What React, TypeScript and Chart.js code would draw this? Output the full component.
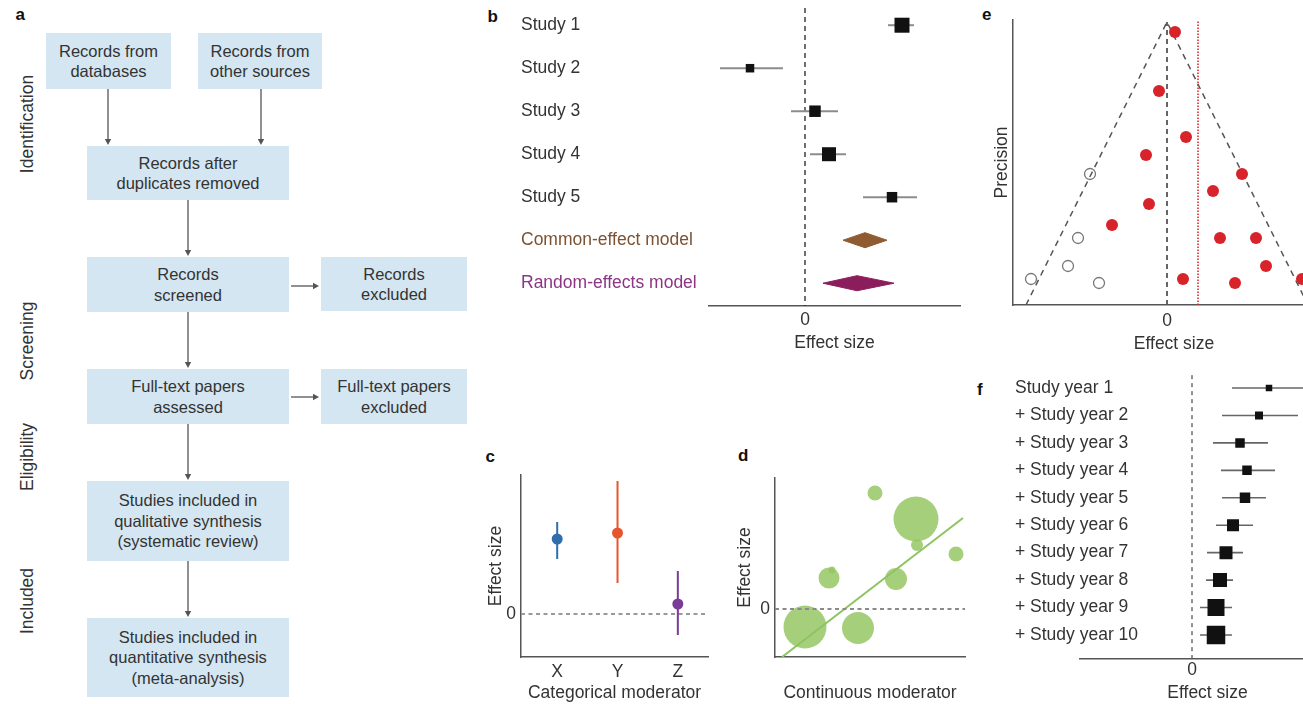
import React, { useEffect, useRef } from "react";
import { Chart, registerables } from "chart.js";

Chart.register(...registerables);

const FONT = '"Liberation Sans", Arial, Helvetica, sans-serif';
Chart.defaults.font.family = FONT;
Chart.defaults.color = "#333";

/* ---------------- panel a: flow diagram ---------------- */
const flowTexts: string[][] = [
  ["Records from", "databases"],
  ["Records from", "other sources"],
  ["Records after", "duplicates removed"],
  ["Records", "screened"],
  ["Records", "excluded"],
  ["Full-text papers", "assessed"],
  ["Full-text papers", "excluded"],
  ["Studies included in", "qualitative synthesis", "(systematic review)"],
  ["Studies included in", "quantitative synthesis", "(meta-analysis)"],
];
const stageLabels = ["Identification", "Screening", "Eligibility", "Included"];

/* ---------------- panel b: forest plot ---------------- */
const forestLabels = [
  "Study 1",
  "Study 2",
  "Study 3",
  "Study 4",
  "Study 5",
  "Common-effect model",
  "Random-effects model",
];
const forestLabelColors = ["#333", "#333", "#333", "#333", "#333", "#7d5231", "#8c3585"];
const studyEffect = [0.97, -0.55, 0.1, 0.24, 0.87];
const studyLower = [0.83, -0.85, -0.14, 0.05, 0.58];
const studyUpper = [1.09, -0.22, 0.33, 0.41, 1.12];
const studyWeight = [15, 8.5, 11.5, 14, 10.5];
const pooledEffect = [0.6, 0.52];
const pooledLower = [0.38, 0.18];
const pooledUpper = [0.82, 0.89];
const pooledColors = ["#8f5b30", "#8b1d5c"];

/* ---------------- panel c: categorical moderator ---------------- */
const catLabels = ["X", "Y", "Z"];
const catEffect = [7.5, 8.1, 1.0];
const catLower = [5.5, 3.1, -2.1];
const catUpper = [9.2, 13.3, 4.3];
const catColors = ["#2f6eab", "#e8552c", "#7a3b97"];

/* ---------------- panel d: continuous moderator ---------------- */
const modX = [3.0, 8.3, 5.4, 5.7, 10.0, 14.1, 14.2, 12.1, 18.1];
const modY = [-1.8, -1.9, 3.1, 3.9, 11.6, 9.0, 6.4, 3.0, 5.5];
const modWeight = [21.5, 16, 10.5, 3.5, 7.5, 22.5, 6, 11, 7.5];
const fitX = [0.7, 18.8];
const fitY = [-4.8, 9.1];

/* ---------------- panel e: funnel plot ---------------- */
const funnelEffect = [0.08, -0.08, 0.19, -0.21, 0.75, 0.46, -0.18, -0.55, 0.53, 0.89, 0.99, 0.16, 0.68, 1.35];
const funnelPrecision = [27.3, 21.4, 16.8, 15.0, 13.1, 11.4, 10.1, 8.0, 6.7, 6.7, 3.9, 2.6, 2.2, 2.6];
const imputedEffect = [-0.77, -0.89, -0.99, -1.36, -0.68];
const imputedPrecision = [13.1, 6.7, 3.9, 2.6, 2.2];
const funnelApex = 28.3;
const funnelHalfWidth = 1.41;
const adjustedEffect = 0.31;

/* ---------------- panel f: cumulative meta-analysis ---------------- */
const cumLabels = [
  "Study year 1",
  "+ Study year 2",
  "+ Study year 3",
  "+ Study year 4",
  "+ Study year 5",
  "+ Study year 6",
  "+ Study year 7",
  "+ Study year 8",
  "+ Study year 9",
  "+ Study year 10",
];
const cumEffect = [0.77, 0.67, 0.48, 0.55, 0.53, 0.41, 0.34, 0.28, 0.24, 0.24];
const cumLower = [0.4, 0.3, 0.21, 0.29, 0.3, 0.24, 0.15, 0.14, 0.08, 0.08];
const cumUpper = [1.16, 1.06, 0.76, 0.83, 0.74, 0.61, 0.51, 0.41, 0.4, 0.4];
const cumWeight = [6.5, 8, 9.5, 9.5, 10.5, 12, 13, 14, 17, 18.5];

/* ---------------- helpers ---------------- */
const FS = 17.5;

function fixAxis(size: number, horizontal: boolean) {
  return (s: any) => {
    if (horizontal) s.height = size;
    else s.width = size;
    s.paddingTop = 0;
    s.paddingBottom = 0;
    s.paddingLeft = 0;
    s.paddingRight = 0;
  };
}

function seg(points: { x: number; y: number }[], color: string, width: number, dash: number[], order: number) {
  return {
    type: "line",
    data: points,
    borderColor: color,
    backgroundColor: color,
    borderWidth: width,
    borderDash: dash,
    pointRadius: 0,
    pointHoverRadius: 0,
    fill: false,
    tension: 0,
    order,
  };
}

function opts(padding: any, scales: any) {
  return {
    responsive: false,
    animation: false,
    events: [],
    layout: { padding, autoPadding: false },
    plugins: { legend: { display: false }, tooltip: { enabled: false } },
    scales,
  };
}

const noGrid = { display: false, drawTicks: false };
const axisBorder = { display: true, color: "#555", width: 1.5 };

function bottomAxis(
  min: number,
  max: number,
  height: number,
  tickPad: number,
  titleText: string,
  titlePad: number,
  tickValues: number[] | null,
  labels?: string[]
) {
  return {
    type: "linear",
    position: "bottom",
    min,
    max,
    afterBuildTicks: (s: any) => {
      s.ticks = (tickValues || []).map((v) => ({ value: v }));
    },
    afterFit: fixAxis(height, true),
    grid: noGrid,
    border: axisBorder,
    ticks: {
      display: tickValues !== null,
      autoSkip: false,
      maxRotation: 0,
      font: { size: FS },
      padding: tickPad,
      color: "#333",
      callback: (v: number) => (labels ? labels[v] ?? "" : String(v)),
    },
    title: {
      display: true,
      text: titleText,
      font: { size: FS },
      color: "#333",
      padding: { top: 0, bottom: titlePad },
    },
  };
}

function leftValueAxis(min: number, max: number, width: number, titlePad: number, showZero: boolean) {
  return {
    type: "linear",
    position: "left",
    min,
    max,
    afterBuildTicks: (s: any) => {
      s.ticks = showZero ? [{ value: 0 }] : [];
    },
    afterFit: fixAxis(width, false),
    grid: noGrid,
    border: axisBorder,
    ticks: { display: showZero, font: { size: FS }, padding: 5, color: "#333", callback: (v: number) => String(v) },
    title: {
      display: true,
      text: showZero ? "Effect size" : "Precision",
      font: { size: FS },
      color: "#333",
      padding: { top: titlePad, bottom: 0 },
    },
  };
}

// Row-label axis. When `overhang` is given, labels start `overhang` px left of the
// chart area and are allowed to run into it (mirror mode avoids clipping).
function labelAxis(labels: string[], colors: string[] | null, min: number, max: number, width: number, overhang?: number) {
  const mirrored = overhang !== undefined;
  return {
    type: "linear",
    position: "left",
    reverse: true,
    min,
    max,
    afterBuildTicks: (s: any) => {
      s.ticks = labels.map((_, i) => ({ value: i }));
    },
    afterFit: fixAxis(width, false),
    grid: noGrid,
    border: { display: false },
    ticks: {
      autoSkip: false,
      mirror: mirrored,
      crossAlign: mirrored ? "near" : "far",
      padding: mirrored ? -(overhang as number) : 0,
      font: { size: FS },
      callback: (v: number) => labels[v] ?? "",
      color: (c: any) => (colors ? colors[c.index] ?? "#333" : "#333"),
    },
  };
}

/* ---------------- chart configs ---------------- */
function forestConfig() {
  const DH = 0.175;
  const ds: any[] = [];
  ds.push(seg([{ x: 0, y: -0.4 }, { x: 0, y: 6.53 }], "#222", 1.3, [5, 4], 6));
  studyEffect.forEach((_, i) =>
    ds.push(seg([{ x: studyLower[i], y: i }, { x: studyUpper[i], y: i }], "#8c8c8c", 2, [], 3))
  );
  ds.push({
    type: "scatter",
    data: studyEffect.map((x, i) => ({ x, y: i })),
    pointStyle: "rect",
    pointRadius: studyWeight.map((w) => w / Math.SQRT2),
    pointHoverRadius: studyWeight.map((w) => w / Math.SQRT2),
    pointBackgroundColor: "#111",
    pointBorderWidth: 0,
    order: 1,
  });
  pooledEffect.forEach((e, i) => {
    const y = studyEffect.length + i;
    ds.push({
      type: "line",
      data: [
        { x: pooledLower[i], y },
        { x: e, y: y - DH },
        { x: pooledUpper[i], y },
        { x: e, y: y + DH },
        { x: pooledLower[i], y },
      ],
      borderColor: pooledColors[i],
      backgroundColor: pooledColors[i],
      borderWidth: 1,
      fill: "shape",
      pointRadius: 0,
      tension: 0,
      order: 1,
    });
  });
  return {
    type: "scatter",
    data: { datasets: ds },
    options: opts(
      { top: 5, left: 5, right: 8, bottom: 0 },
      {
        x: bottomAxis(-0.96, 1.55, 49, 4, "Effect size", 1.3, [0]),
        y: labelAxis(forestLabels, forestLabelColors, -0.47, 6.53, 188),
      }
    ),
  };
}

function categoricalConfig() {
  const ds: any[] = [];
  ds.push(seg([{ x: -0.6, y: 0 }, { x: 2.5, y: 0 }], "#999", 2, [4, 3.5], 6));
  catEffect.forEach((_, i) =>
    ds.push(seg([{ x: i, y: catLower[i] }, { x: i, y: catUpper[i] }], catColors[i], 2, [], 3))
  );
  ds.push({
    type: "scatter",
    data: catEffect.map((y, i) => ({ x: i, y })),
    pointRadius: 5.5,
    pointHoverRadius: 5.5,
    pointBackgroundColor: catColors,
    pointBorderWidth: 0,
    order: 1,
  });
  return {
    type: "scatter",
    data: { datasets: ds },
    options: opts(
      { top: 13, left: 0, right: 7, bottom: 0 },
      {
        x: bottomAxis(-0.6, 2.5, 47, 4.3, "Categorical moderator", 0.8, [0, 1, 2], catLabels),
        y: leftValueAxis(-4.3, 13.9, 36, 1, true),
      }
    ),
  };
}

function continuousConfig() {
  const ds: any[] = [];
  ds.push({
    type: "bubble",
    data: modX.map((x, i) => ({ x, y: modY[i], r: modWeight[i] })),
    backgroundColor: "rgba(150,199,101,0.85)",
    borderWidth: 0,
    hoverRadius: 0,
    order: 5,
  });
  ds.push(seg([{ x: fitX[0], y: fitY[0] }, { x: fitX[1], y: fitY[1] }], "#8dc462", 2, [], 3));
  ds.push(seg([{ x: 0, y: 0 }, { x: 19, y: 0 }], "#8a8a8a", 2, [4, 3.5], 1));
  return {
    type: "scatter",
    data: { datasets: ds },
    options: opts(
      { top: 16, left: 0, right: 8, bottom: 0 },
      {
        x: bottomAxis(0, 19, 47, 4.3, "Continuous moderator", 0.8, null),
        y: leftValueAxis(-4.8, 13.1, 42, 2, true),
      }
    ),
  };
}

function funnelConfig() {
  const ds: any[] = [];
  ds.push(
    seg(
      [
        { x: -funnelHalfWidth, y: 0 },
        { x: 0, y: funnelApex },
        { x: funnelHalfWidth, y: 0 },
      ],
      "#555",
      1.5,
      [6, 5],
      6
    )
  );
  ds.push(seg([{ x: 0, y: 0 }, { x: 0, y: funnelApex }], "#555", 1.8, [5, 4], 6));
  ds.push(seg([{ x: adjustedEffect, y: 0 }, { x: adjustedEffect, y: 28.5 }], "#e0282e", 1.6, [1.5, 1.5], 5));
  ds.push({
    type: "scatter",
    data: imputedEffect.map((x, i) => ({ x, y: imputedPrecision[i] })),
    pointRadius: 5.5,
    pointHoverRadius: 5.5,
    pointBackgroundColor: "rgba(255,255,255,0)",
    pointBorderColor: "#777",
    pointBorderWidth: 1.3,
    order: 2,
  });
  ds.push({
    type: "scatter",
    data: funnelEffect.map((x, i) => ({ x, y: funnelPrecision[i] })),
    pointRadius: 6,
    pointHoverRadius: 6,
    pointBackgroundColor: "#d8232a",
    pointBorderWidth: 0,
    order: 1,
  });
  return {
    type: "scatter",
    data: { datasets: ds },
    options: opts(
      { top: 20, left: 0, right: 0, bottom: 0 },
      {
        x: bottomAxis(-1.54, 1.68, 50, 5.8, "Effect size", 0.8, [0]),
        y: leftValueAxis(0, 28.5, 28, 6.8, false),
      }
    ),
  };
}

function cumulativeConfig() {
  const ds: any[] = [];
  ds.push(seg([{ x: 0, y: -0.47 }, { x: 0, y: 9.876 }], "#555", 1.3, [4, 4], 6));
  cumEffect.forEach((_, i) =>
    ds.push(seg([{ x: cumLower[i], y: i }, { x: cumUpper[i], y: i }], "#666", 1.6, [], 3))
  );
  ds.push({
    type: "scatter",
    data: cumEffect.map((x, i) => ({ x, y: i })),
    pointStyle: "rect",
    pointRadius: cumWeight.map((w) => w / Math.SQRT2),
    pointHoverRadius: cumWeight.map((w) => w / Math.SQRT2),
    pointBackgroundColor: "#111",
    pointBorderWidth: 0,
    order: 1,
  });
  return {
    type: "scatter",
    data: { datasets: ds },
    options: opts(
      { top: 12.3, left: 5, right: 0, bottom: 0 },
      {
        x: bottomAxis(-1.12, 1.43, 45, 1, "Effect size", 0, [0]),
        y: labelAxis(cumLabels, null, -0.5, 9.876, 65, 65),
      }
    ),
  };
}

/* ---------------- components ---------------- */
function ChartPanel(props: { left: number; top: number; width: number; height: number; make: () => any }) {
  const ref = useRef<HTMLCanvasElement | null>(null);
  useEffect(() => {
    if (!ref.current) return;
    const chart = new Chart(ref.current, props.make());
    return () => chart.destroy();
  }, []);
  return (
    <canvas
      ref={ref}
      width={props.width}
      height={props.height}
      style={{ position: "absolute", left: props.left, top: props.top, width: props.width, height: props.height }}
    />
  );
}

const boxLayout = [
  { x: 46, y: 33, w: 125, h: 56 },
  { x: 198, y: 33, w: 124, h: 56 },
  { x: 87, y: 146, w: 202, h: 54 },
  { x: 87, y: 257, w: 202, h: 55 },
  { x: 321, y: 257, w: 146, h: 54 },
  { x: 87, y: 369, w: 202, h: 55 },
  { x: 321, y: 369, w: 146, h: 55 },
  { x: 87, y: 481, w: 202, h: 80 },
  { x: 87, y: 618, w: 202, h: 79 },
];
const arrowLayout = [
  [108, 89, 108, 145],
  [261, 89, 261, 145],
  [188, 200, 188, 256],
  [291, 286, 319, 286],
  [188, 312, 188, 368],
  [291, 397, 319, 397],
  [188, 424, 188, 480],
  [188, 561, 188, 617],
];
const stageY = [124, 341, 457, 601];

function FlowDiagram() {
  return (
    <>
      {flowTexts.map((lines, i) => {
        const b = boxLayout[i];
        return (
          <div
            key={i}
            style={{
              position: "absolute",
              left: b.x,
              top: b.y,
              width: b.w,
              height: b.h,
              background: "#d4e6f1",
              display: "flex",
              flexDirection: "column",
              alignItems: "center",
              justifyContent: "center",
              fontSize: 16.5,
              lineHeight: "20.5px",
              color: "#333",
              textAlign: "center",
            }}
          >
            {lines.map((l, j) => (
              <div key={j} style={{ whiteSpace: "nowrap" }}>
                {l}
              </div>
            ))}
          </div>
        );
      })}
      <svg width={480} height={704} style={{ position: "absolute", left: 0, top: 0 }}>
        {arrowLayout.map(([x1, y1, x2, y2], i) => {
          const vertical = x1 === x2;
          const hl = 6;
          const hw = 3.2;
          const ex = vertical ? x2 : x2 - hl;
          const ey = vertical ? y2 - hl : y2;
          const head = vertical
            ? `${x2 - hw},${y2 - hl} ${x2 + hw},${y2 - hl} ${x2},${y2}`
            : `${x2 - hl},${y2 - hw} ${x2 - hl},${y2 + hw} ${x2},${y2}`;
          return (
            <g key={i}>
              <line x1={x1} y1={y1} x2={ex} y2={ey} stroke="#555" strokeWidth={1.3} />
              <polygon points={head} fill="#555" />
            </g>
          );
        })}
      </svg>
      {stageLabels.map((s, i) => (
        <div
          key={s}
          style={{
            position: "absolute",
            left: 27,
            top: stageY[i],
            transform: "translate(-50%, -50%) rotate(-90deg)",
            whiteSpace: "nowrap",
            fontSize: FS,
            lineHeight: "20px",
            color: "#333",
          }}
        >
          {s}
        </div>
      ))}
    </>
  );
}

const panelLetters = [
  { t: "a", x: 15.5, base: 20 },
  { t: "b", x: 487.5, base: 22 },
  { t: "c", x: 485.5, base: 462 },
  { t: "d", x: 738, base: 461 },
  { t: "e", x: 982, base: 20 },
  { t: "f", x: 977, base: 395 },
];

export default function App() {
  return (
    <div
      style={{
        position: "fixed",
        left: 0,
        top: 0,
        width: 1303,
        height: 704,
        overflow: "hidden",
        background: "#fff",
        fontFamily: FONT,
      }}
    >
      <FlowDiagram />
      {panelLetters.map((p) => (
        <div
          key={p.t}
          style={{
            position: "absolute",
            left: p.x,
            top: p.base - 14.4,
            fontSize: 17,
            lineHeight: "17px",
            fontWeight: "bold",
            color: "#111",
          }}
        >
          {p.t}
        </div>
      ))}
      <ChartPanel left={516} top={0} width={452} height={355} make={forestConfig} />
      <ChartPanel left={985} top={0} width={350} height={355} make={funnelConfig} />
      <ChartPanel left={485} top={462} width={230} height={242} make={categoricalConfig} />
      <ChartPanel left={733} top={462} width={240} height={242} make={continuousConfig} />
      <ChartPanel left={1010} top={362} width={325} height={342} make={cumulativeConfig} />
    </div>
  );
}
